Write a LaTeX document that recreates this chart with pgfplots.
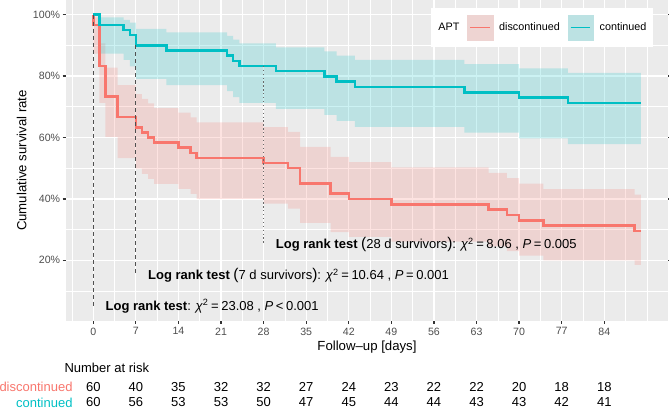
\documentclass[border=0pt]{standalone}
\usepackage{fontspec}
\setmainfont{Liberation Sans}
\usepackage{pgfplots}
\usepackage{pgfplotstable}
\pgfplotsset{compat=1.18}
\usepgfplotslibrary{fillbetween}
\definecolor{kmred}{HTML}{F8766D}
\definecolor{kmteal}{HTML}{00BFC4}
\definecolor{panelbg}{HTML}{EBEBEB}
\definecolor{tickcol}{HTML}{333333}
\definecolor{ticklab}{HTML}{4D4D4D}
\definecolor{vline}{HTML}{505050}

% continued: time, survival %, upper, lower (log-log 95% CI)
\pgfplotstableread{
t s u l
0 100 100 100
1 96.667 99.156 87.323
5 95.000 98.360 85.294
6 93.333 97.444 83.205
7 90.000 95.379 79.088
12 88.333 94.260 77.078
22 86.667 93.098 75.102
23 85.000 91.898 73.156
24 83.333 90.664 71.237
30 81.667 89.401 69.344
38 79.929 88.070 67.362
40 78.191 86.712 65.410
43 76.453 85.329 63.486
61 74.716 83.924 61.586
70 72.978 82.496 59.712
78 71.241 81.048 57.856
90 71.241 81.048 57.856
}\contd

% discontinued
\pgfplotstableread{
t s u l
0 100 100 100
0 96.667 99.156 87.323
1 83.333 90.664 71.237
2 73.333 82.726 60.214
4 66.667 77.043 53.241
7 63.333 74.103 49.849
8 61.667 72.614 48.174
9 60.000 71.114 46.514
10 58.333 69.598 44.868
14 56.667 68.066 43.236
16 55.000 66.521 41.617
17 53.333 64.963 40.012
28 51.667 63.392 38.421
32 50.000 61.808 36.842
34 45.000 56.980 32.191
39 41.667 53.694 29.159
42 39.931 51.977 27.586
49 38.195 50.246 26.029
65 36.459 48.499 24.490
68 34.723 46.736 22.971
70 32.987 44.956 21.469
74 31.251 43.157 19.989
89 29.515 41.341 18.528
90 29.515 41.341 18.528
}\disc

\begin{document}
\begin{tikzpicture}
\begin{axis}[
  at={(65.9bp,88.3bp)}, anchor=south west,
  scale only axis, width=602.25bp, height=320.7bp,
  xmin=-4.5, xmax=94.5, ymin=0.3, ymax=104.8,
  clip=false,
  axis background/.style={fill=panelbg},
  axis line style={draw=none},
  xtick={0,7,14,21,28,35,42,49,56,63,70,77,84},
  xticklabels={0,7,14,21,28,35,42,49,56,63,70,77,84},
  ytick={20,40,60,80,100},
  yticklabels={20\%,40\%,60\%,80\%,100\%},
  minor xtick={-3.5,3.5,10.5,17.5,24.5,31.5,38.5,45.5,52.5,59.5,66.5,73.5,80.5,87.5,91},
  minor ytick={10,30,50,70,90},
  grid=both,
  major grid style={white, line width=1.28bp},
  minor grid style={white, line width=0.64bp},
  tick align=outside,
  major tick length=3.3bp, minor tick length=0pt,
  tick style={tickcol, line width=1.28bp},
  xticklabel style={font=\fontsize{10.6bp}{12bp}\selectfont, text=ticklab, inner sep=0pt, yshift=-3.5bp},
  yticklabel style={font=\fontsize{10.6bp}{12bp}\selectfont, text=ticklab, inner sep=0pt, xshift=-2.3bp},
  legend columns=3,
  legend style={
    at={(0.9753,0.9751)}, anchor=north east,
    draw=none, fill=white,
    inner xsep=6.6bp, inner ysep=6.85bp,
    font=\fontsize{10.8bp}{12bp}\selectfont,
    nodes={inner sep=0pt},
    /tikz/every odd column/.append style={column sep=6bp},
    /tikz/every even column/.append style={column sep=7.7bp},
  },
]
% confidence bands
\addplot[forget plot, draw=none, const plot, name path=du] table[x=t,y=u] {\disc};
\addplot[forget plot, draw=none, const plot, name path=dl] table[x=t,y=l] {\disc};
\addplot[forget plot, fill=kmred, fill opacity=0.2, draw=none] fill between[of=du and dl];
\addplot[forget plot, draw=none, const plot, name path=cu] table[x=t,y=u] {\contd};
\addplot[forget plot, draw=none, const plot, name path=cl] table[x=t,y=l] {\contd};
\addplot[forget plot, fill=kmteal, fill opacity=0.2, draw=none] fill between[of=cu and cl];
% survival curves
\addplot[forget plot, const plot, kmred, line width=2.5bp] table[x=t,y=s] {\disc};
\addplot[forget plot, const plot, kmteal, line width=2.5bp] table[x=t,y=s] {\contd};
% reference lines
\addplot[forget plot, vline, line width=1.2bp, dash pattern=on 4bp off 3bp] coordinates {(0,100) (0,5)};
\addplot[forget plot, vline, line width=1.2bp, dash pattern=on 4bp off 3bp] coordinates {(7,90) (7,15)};
\addplot[forget plot, vline!85, line width=1.2bp, dash pattern=on 1.3bp off 2.6bp] coordinates {(28,83.333) (28,25)};
% annotations
\node[anchor=west, inner sep=0pt, font=\fontsize{13bp}{15bp}\selectfont] at (axis cs:2,5)
  {\textbf{Log rank test}: \textit{χ}\textsuperscript{2}\hspace{0.2em}=\hspace{0.2em}23.08 , \textit{P}\hspace{0.2em}<\hspace{0.2em}0.001};
\node[anchor=west, inner sep=0pt, font=\fontsize{13bp}{15bp}\selectfont] at (axis cs:9,15)
  {\textbf{Log rank test} {\fontsize{15.5bp}{15bp}\selectfont(}7 d survivors{\fontsize{15.5bp}{15bp}\selectfont)}: \textit{χ}\textsuperscript{2}\hspace{0.2em}=\hspace{0.2em}10.64 , \textit{P}\hspace{0.2em}=\hspace{0.2em}0.001};
\node[anchor=west, inner sep=0pt, font=\fontsize{13bp}{15bp}\selectfont] at (axis cs:30,25)
  {\textbf{Log rank test} {\fontsize{15.5bp}{15bp}\selectfont(}28 d survivors{\fontsize{15.5bp}{15bp}\selectfont)}: \textit{χ}\textsuperscript{2}\hspace{0.2em}=\hspace{0.2em}8.06 , \textit{P}\hspace{0.2em}=\hspace{0.2em}0.005};
% legend
\addlegendimage{empty legend}
\addlegendentry{\hspace{-5.2bp}APT\hspace{4.9bp}}
\addlegendimage{legend image code/.code={
  \fill[kmred!20!panelbg] (0bp,-12.5bp) rectangle (25.7bp,12.5bp);
  \draw[kmred, line width=0.8bp] (3bp,0bp) -- (22.7bp,0bp);}}
\addlegendentry{discontinued}
\addlegendimage{legend image code/.code={
  \fill[kmteal!20!panelbg] (0bp,-12.5bp) rectangle (25.7bp,12.5bp);
  \draw[kmteal, line width=0.8bp] (3bp,0bp) -- (22.7bp,0bp);}}
\addlegendentry{continued}
\end{axis}
% axis titles
\node[font=\fontsize{13.2bp}{15bp}\selectfont] at (367bp,62.3bp) {Follow–up [days]};
\node[font=\fontsize{13.2bp}{15bp}\selectfont, rotate=90] at (21.7bp,248.5bp) {Cumulative survival rate};
% number at risk table
\node[anchor=west, inner sep=0pt, font=\fontsize{13bp}{15bp}\selectfont] at (64.3bp,41bp) {Number at risk};
\node[anchor=east, inner sep=0pt, text=kmred, font=\fontsize{13bp}{15bp}\selectfont] at (72.7bp,22.3bp) {discontinued};
\node[anchor=east, inner sep=0pt, text=kmteal, font=\fontsize{13bp}{15bp}\selectfont] at (72.7bp,6.6bp) {continued};
\foreach \t/\a/\b in {0/60/60,7/40/56,14/35/53,21/32/53,28/32/50,35/27/47,42/24/45,49/23/44,56/22/44,63/22/43,70/20/43,77/18/42,84/18/41}{
  \pgfmathsetmacro{\xx}{93.3+6.0833*\t}
  \node[inner sep=0pt, font=\fontsize{13bp}{15bp}\selectfont] at (\xx bp,22.3bp) {\a};
  \node[inner sep=0pt, font=\fontsize{13bp}{15bp}\selectfont] at (\xx bp,6.6bp) {\b};
}
\pgfresetboundingbox
\path[use as bounding box] (0,0) rectangle (669bp,409bp);
\end{tikzpicture}
\end{document}
